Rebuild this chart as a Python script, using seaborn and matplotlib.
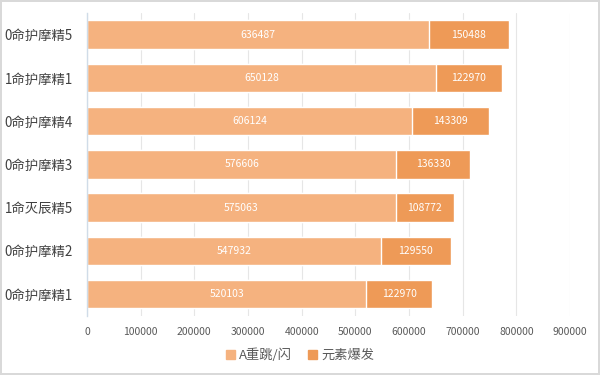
import matplotlib
matplotlib.use("Agg")
import matplotlib.pyplot as plt
import seaborn as sns
import pandas as pd
from matplotlib.patches import Patch

categories = ["0命护摩精5", "1命护摩精1", "0命护摩精4", "0命护摩精3", "1命灭辰精5", "0命护摩精2", "0命护摩精1"]
a_values = [636487, 650128, 606124, 576606, 575063, 547932, 520103]
burst_values = [150488, 122970, 143309, 136330, 108772, 129550, 122970]
series_names = ["A重跳/闪", "元素爆发"]
xticks = [0, 100000, 200000, 300000, 400000, 500000, 600000, 700000, 800000, 900000]

sns.set_theme(style="white")
plt.rcParams['font.family'] = ['Noto Sans CJK SC', 'DejaVu Sans']

df = pd.DataFrame({"cat": categories, "a": a_values, "b": burst_values})
df["total"] = df["a"] + df["b"]

c_light = "#F5B27F"
c_dark = "#EE9A57"

fig = plt.figure(figsize=(6, 3.75), dpi=100)
fig.patch.set_edgecolor("#D9D9D9")
fig.patch.set_linewidth(1.5)
ax = fig.add_axes([0.145, 0.158, 0.805, 0.807])

sns.barplot(data=df, y="cat", x="total", color=c_dark, saturation=1, width=0.66, ax=ax, orient="h")
sns.barplot(data=df, y="cat", x="a", color=c_light, saturation=1, width=0.66, ax=ax, orient="h")

cont_total = ax.containers[0]
cont_a = ax.containers[1]
ax.bar_label(cont_a, labels=[str(v) for v in df["a"]], label_type="center", color="white", fontsize=7.5)
for bar, a, b in zip(cont_total, df["a"], df["b"]):
    y = bar.get_y() + bar.get_height() / 2
    ax.text(a + b / 2, y, str(b), ha="center", va="center", color="white", fontsize=7.5)

ax.set_xlim(0, 900000)
ax.set_xticks(xticks)
ax.set_xticklabels([str(t) for t in xticks], fontsize=7.5, color="#595959")
ax.tick_params(axis="y", labelsize=9.6, labelcolor="#404040", length=0, pad=10)
ax.tick_params(axis="x", length=0, pad=8)
ax.set_xlabel("")
ax.set_ylabel("")
ax.grid(axis="x", color="#E6E6E6", linewidth=0.8)
ax.set_axisbelow(True)
for s in ["top", "right", "bottom"]:
    ax.spines[s].set_visible(False)
ax.spines["left"].set_color("#D0DCE8")
ax.spines["left"].set_linewidth(1)

handles = [Patch(color=c_light, label=series_names[0]), Patch(color=c_dark, label=series_names[1])]
fig.legend(handles=handles, loc="center", bbox_to_anchor=(0.5, 0.053), ncol=2, frameon=False,
           fontsize=9.5, handlelength=0.7, handleheight=0.7, columnspacing=1.2, handletextpad=0.3,
           labelcolor="#595959")

fig.savefig("out.png", dpi=100)
